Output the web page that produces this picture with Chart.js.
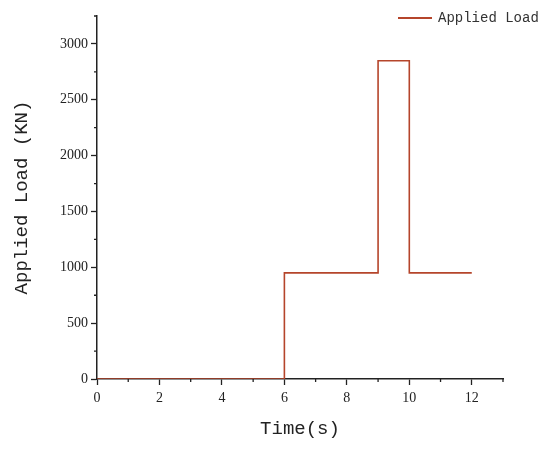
<!DOCTYPE html>
<html>
<head>
<meta charset="utf-8">
<script src="https://cdn.jsdelivr.net/npm/chart.js@4"></script>
<style>
    html, body { margin: 0; padding: 0; background: #fff; }
    #wrap { width: 550px; height: 449px; }
</style>
</head>
<body>
<div id="wrap"><canvas id="loadChart" width="550" height="449"></canvas></div>
<script>
// data
const seriesName = 'Applied Load';
const times = [0, 6, 9, 10, 12];          // s
const loads = [0, 950, 2850, 950, 950];   // KN, value held up to each time (step before)
const xTickLabels = [0, 2, 4, 6, 8, 10, 12];
const yTickLabels = [0, 500, 1000, 1500, 2000, 2500, 3000];

const lineColor = '#b5452b';
const axisColor = '#222';
const monoFont = "'Liberation Mono', monospace";
const serifFont = "'Liberation Serif', serif";

// major ticks get the grid tick, minor ones are hidden there and drawn shorter here
const isMajor = (scale, v) => (scale.axis === 'x' ? xTickLabels : yTickLabels).includes(v);

const minorTicks = {
    id: 'minorTicks',
    afterDraw(chart) {
        const ctx = chart.ctx;
        ctx.save();
        ctx.strokeStyle = axisColor;
        ctx.lineWidth = 1.3;
        ctx.beginPath();
        ['x', 'y'].forEach(id => {
            const scale = chart.scales[id];
            scale.ticks.forEach(t => {
                if (isMajor(scale, t.value)) return;
                const p = scale.getPixelForValue(t.value);
                if (id === 'x') {
                    ctx.moveTo(p, scale.top);
                    ctx.lineTo(p, scale.top + 3);
                } else {
                    ctx.moveTo(scale.right, p);
                    ctx.lineTo(scale.right - 3, p);
                }
            });
        });
        ctx.stroke();
        ctx.restore();
    }
};

// draws the legend in the top right corner, outside the plot area
const cornerLegend = {
    id: 'cornerLegend',
    afterDraw(chart) {
        const ctx = chart.ctx;
        const ds = chart.data.datasets[0];
        ctx.save();
        ctx.strokeStyle = ds.borderColor;
        ctx.lineWidth = 2;
        ctx.beginPath();
        ctx.moveTo(398, 18);
        ctx.lineTo(432, 18);
        ctx.stroke();
        ctx.fillStyle = '#333';
        ctx.font = '14px ' + monoFont;
        ctx.textBaseline = 'middle';
        ctx.fillText(ds.label, 438, 18);
        ctx.restore();
    }
};

const tickGrid = {
    drawOnChartArea: false,
    tickLength: 6,
    tickWidth: 1.3,
    tickColor: c => isMajor(c.scale, c.tick ? c.tick.value : NaN) ? axisColor : 'rgba(0,0,0,0)'
};

const ctx = document.getElementById('loadChart').getContext('2d');
new Chart(ctx, {
    type: 'line',
    data: {
        datasets: [{
            label: seriesName,
            data: times.map((t, i) => ({ x: t, y: loads[i] })),
            stepped: 'before',
            borderColor: lineColor,
            borderWidth: 1.6,
            pointRadius: 0,
            fill: false
        }]
    },
    options: {
        responsive: false,
        animation: false,
        layout: { padding: { top: 16, right: 47, left: 0, bottom: 0 } },
        plugins: {
            legend: { display: false },
            tooltip: { enabled: false }
        },
        scales: {
            x: {
                type: 'linear',
                min: 0,
                max: 13,
                afterFit(scale) { scale.height = 70; },
                border: { color: axisColor, width: 1.5 },
                grid: tickGrid,
                ticks: {
                    stepSize: 1,
                    padding: 5,
                    color: axisColor,
                    font: { family: serifFont, size: 14 },
                    maxRotation: 0,
                    autoSkip: false,
                    callback: v => xTickLabels.includes(v) ? String(v) : ''
                },
                title: {
                    display: true,
                    text: 'Time(s)',
                    color: axisColor,
                    font: { family: monoFont, size: 19 },
                    padding: { top: 0, bottom: 9 }
                }
            },
            y: {
                min: 0,
                max: 3250,
                afterFit(scale) { scale.width = 97; },
                border: { color: axisColor, width: 1.5 },
                grid: tickGrid,
                ticks: {
                    stepSize: 250,
                    padding: 3,
                    color: axisColor,
                    font: { family: serifFont, size: 14 },
                    autoSkip: false,
                    callback: v => yTickLabels.includes(v) ? String(v) : ''
                },
                title: {
                    display: true,
                    text: 'Applied Load (KN)',
                    color: axisColor,
                    font: { family: monoFont, size: 19 },
                    padding: { top: 11, bottom: 0 }
                }
            }
        }
    },
    plugins: [minorTicks, cornerLegend]
});
</script>
</body>
</html>
